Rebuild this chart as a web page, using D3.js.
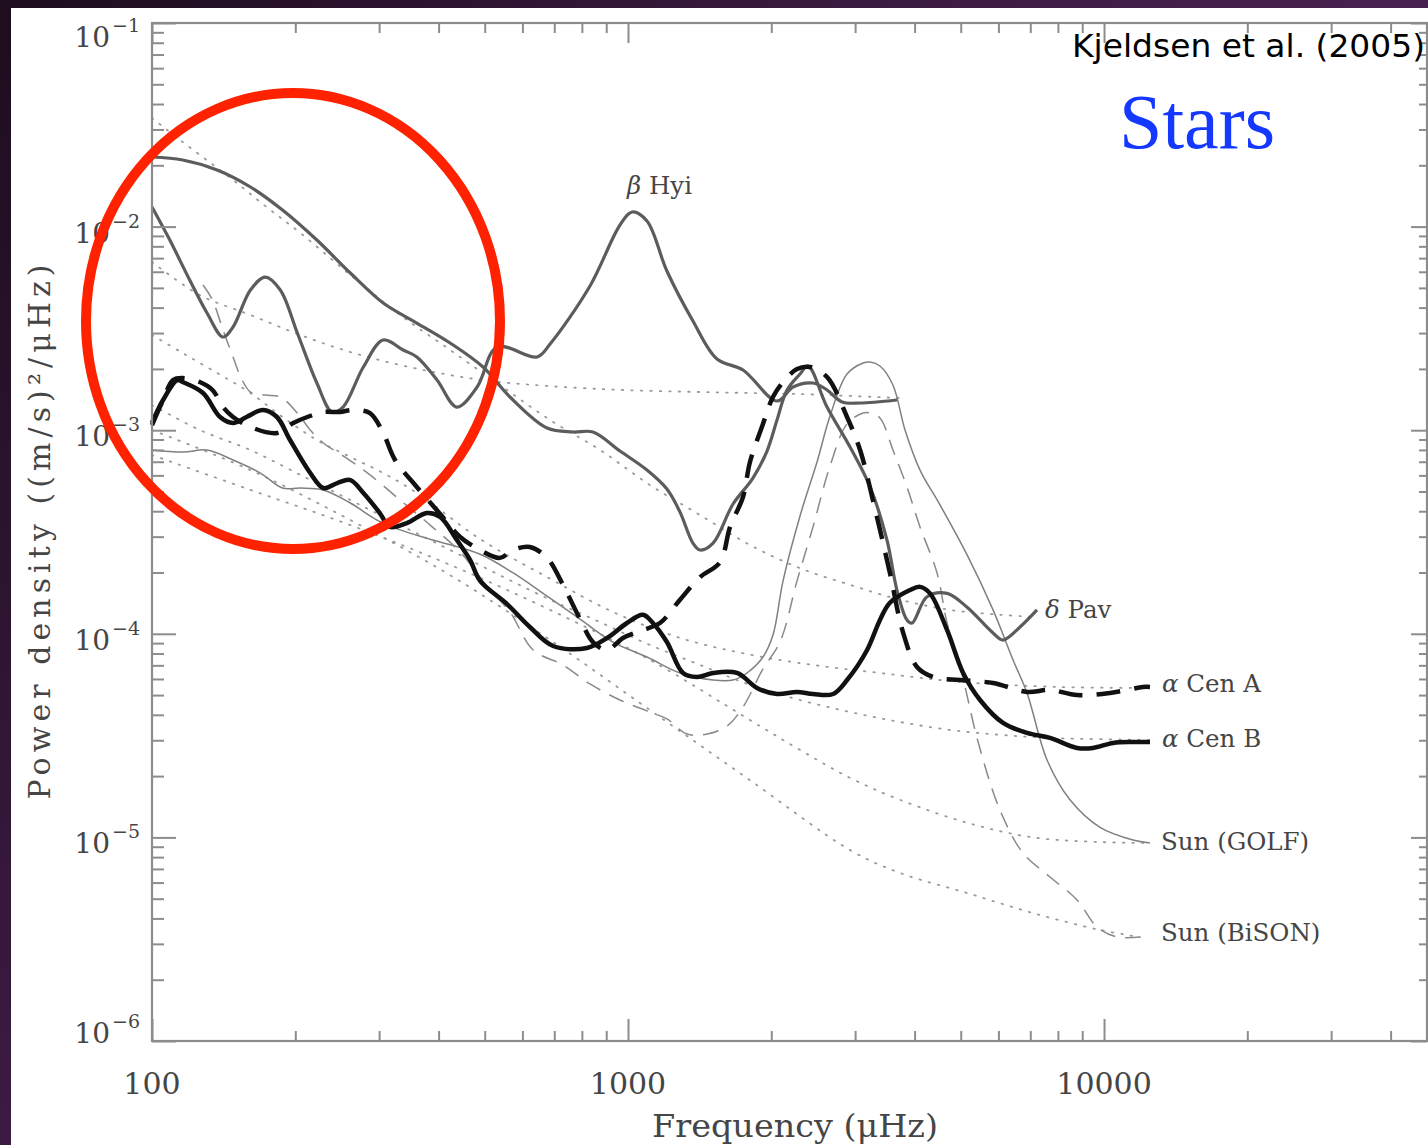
<!DOCTYPE html>
<html>
<head>
<meta charset="utf-8">
<script src="https://cdn.jsdelivr.net/npm/d3@7"></script>
<style>
  html, body { margin: 0; padding: 0; background: #ffffff; }
  svg { display: block; }
</style>
</head>
<body>
<svg id="chart" width="1428" height="1145"></svg>
<script>
// ---- Axis ticks ----------------------------------------------------------
const freqMajorTicks = [100, 1000, 10000];
const freqMinorTicks = [200, 300, 400, 500, 600, 700, 800, 900,
                        2000, 3000, 4000, 5000, 6000, 7000, 8000, 9000,
                        20000, 30000, 40000];
const freqTickLabels = ["100", "1000", "10000"];
const powerExponents = [-1, -2, -3, -4, -5, -6];
const powerMinorMantissas = [2, 3, 4, 5, 6, 7, 8, 9];

// ---- Smoothed power density spectra (frequency in µHz, power in (m/s)^2/µHz)
const dPavFreq  = [100, 116, 137, 161, 188, 222, 261, 306, 360, 423, 496, 565, 676, 766, 844, 962, 1096, 1207, 1286, 1369, 1417, 1509, 1662, 1830, 1959, 2056, 2158, 2298, 2389, 2619, 2927, 3226, 3499, 3673, 3855, 3951, 4248, 4680, 5157, 5846, 6135, 6661, 7231];
const dPavPower = [0.02197, 0.02124, 0.01897, 0.01565, 0.01206, 0.00859, 0.005917, 0.004214, 0.003361, 0.002681, 0.002043, 0.001456, 0.001025, 0.000980, 0.000980, 0.000790, 0.000637, 0.000514, 0.000396, 0.000279, 0.000258, 0.000279, 0.000434, 0.000582, 0.000790, 0.001122, 0.001576, 0.001888, 0.002067, 0.001299, 0.000827, 0.000526, 0.000289, 0.000164, 0.000117, 0.000113, 0.000152, 0.000158, 0.000135, 0.0001009, 0.0000932, 0.000108, 0.000131];

const bHyiFreq  = [100, 109, 120, 130.5, 141, 148, 161, 173, 186, 202, 222, 239, 252, 278, 306, 337, 360, 397, 437, 482, 531, 644, 686, 832, 962, 1020, 1096, 1207, 1369, 1538, 1744, 2056, 2222, 2447, 2619, 2816, 3073, 3673];
const bHyiPower = [0.01248, 0.00859, 0.005466, 0.003764, 0.002869, 0.003212, 0.004882, 0.005653, 0.004882, 0.003001, 0.001705, 0.001228, 0.001299, 0.002043, 0.002773, 0.002477, 0.002289, 0.001764, 0.001299, 0.001630, 0.002563, 0.002289, 0.002651, 0.005107, 0.01018, 0.01179, 0.01065, 0.006050, 0.003438, 0.002237, 0.001975, 0.001391, 0.001630, 0.001705, 0.001576, 0.001376, 0.001360, 0.001407];

const aCenAFreq  = [100, 105.5, 110.7, 116, 126, 134, 141, 148, 161, 183, 198, 212, 229, 248, 264, 287, 306, 324, 360, 403, 444, 489, 538, 574, 622, 676, 730, 793, 844, 904, 976, 1060, 1167, 1286, 1417, 1561, 1638, 1744, 1804, 1921, 2016, 2117, 2265, 2412, 2619, 2885, 3073, 3269, 3550, 3781, 4047, 4374, 4985, 5846, 6891, 7702, 8776, 10295, 12077, 12490];
const aCenAPower = [0.001060, 0.001407, 0.001764, 0.001804, 0.001724, 0.001576, 0.001299, 0.001161, 0.001037, 0.000969, 0.001085, 0.001161, 0.001228, 0.001228, 0.001256, 0.001214, 0.000969, 0.000714, 0.000526, 0.000388, 0.000299, 0.000258, 0.000236, 0.000258, 0.000267, 0.000236, 0.000174, 0.000118, 0.0000911, 0.0000833, 0.0000954, 0.0001032, 0.000113, 0.000147, 0.000190, 0.000225, 0.000335, 0.000470, 0.000698, 0.001073, 0.001456, 0.001724, 0.001997, 0.002043, 0.001825, 0.001161, 0.000799, 0.000454, 0.000199, 0.0001020, 0.0000687, 0.0000614, 0.0000593, 0.0000573, 0.0000518, 0.0000530, 0.0000500, 0.0000512, 0.0000548, 0.0000548];

const aCenBFreq  = [100, 105.5, 113, 116, 128, 139, 148, 158, 171, 183, 195, 215, 229, 245, 261, 278, 301, 316, 343, 378, 403, 437, 466, 489, 557, 622, 696, 820, 904, 995, 1075, 1128, 1207, 1305, 1396, 1509, 1694, 1866, 2056, 2265, 2447, 2696, 2885, 3179, 3383, 3550, 3912, 4106, 4310, 4680, 5058, 5490, 6135, 6891, 7702, 8776, 9483, 10445, 11505, 12490];
const aCenBPower = [0.001085, 0.001407, 0.001764, 0.001724, 0.001523, 0.001161, 0.001085, 0.001161, 0.001256, 0.001161, 0.000895, 0.000616, 0.000520, 0.000550, 0.000569, 0.000492, 0.000392, 0.000335, 0.000350, 0.000392, 0.000375, 0.000289, 0.000230, 0.000182, 0.000140, 0.000108, 0.0000871, 0.0000852, 0.0000954, 0.000113, 0.000124, 0.000113, 0.0000911, 0.0000642, 0.0000614, 0.0000642, 0.0000642, 0.0000542, 0.0000506, 0.0000518, 0.0000506, 0.0000506, 0.0000593, 0.0000833, 0.000117, 0.000142, 0.000164, 0.000170, 0.000158, 0.0001044, 0.0000642, 0.0000473, 0.0000365, 0.0000326, 0.0000308, 0.0000275, 0.0000275, 0.0000291, 0.0000294, 0.0000294];

const golfFreq  = [100, 116, 130.5, 148, 169, 188, 205, 229, 261, 297, 332, 389, 489, 574, 676, 793, 930, 1096, 1286, 1509, 1662, 1778, 1921, 2016, 2117, 2298, 2495, 2657, 2885, 3118, 3226, 3383, 3602, 3819, 4106, 4525, 5157, 5846, 6440, 6891, 7591, 8483, 9809, 11505, 12490];
const golfPower = [0.000799, 0.000781, 0.000799, 0.000714, 0.000616, 0.000520, 0.000520, 0.000509, 0.000439, 0.000362, 0.000324, 0.000289, 0.000246, 0.000199, 0.000153, 0.000118, 0.0000911, 0.0000769, 0.0000642, 0.0000593, 0.0000593, 0.0000642, 0.0000769, 0.0000986, 0.000182, 0.000379, 0.000698, 0.001174, 0.001888, 0.002138, 0.002163, 0.002067, 0.001667, 0.001002, 0.000637, 0.000429, 0.000244, 0.000131, 0.0000744, 0.0000512, 0.0000240, 0.0000153, 0.0000112, 0.00000971, 0.00000939];

const bisonFreq  = [128, 134, 141, 148, 153, 161, 173, 186, 202, 215, 229, 254, 287, 332, 384, 444, 513, 565, 632, 730, 832, 962, 1096, 1207, 1330, 1466, 1614, 1744, 1921, 2086, 2265, 2447, 2657, 2885, 3118, 3226, 3383, 3602, 3855, 4106, 4459, 4680, 5034, 5439, 6047, 6758, 7702, 8776, 9667, 10649, 11903];
const bisonPower = [0.005163, 0.004359, 0.003105, 0.002289, 0.001866, 0.001540, 0.001489, 0.001456, 0.001214, 0.001002, 0.000865, 0.000739, 0.000603, 0.000454, 0.000342, 0.000252, 0.000164, 0.000128, 0.0000833, 0.0000703, 0.0000567, 0.0000473, 0.0000418, 0.0000382, 0.0000322, 0.0000322, 0.0000352, 0.0000437, 0.0000672, 0.0000911, 0.000182, 0.000335, 0.000667, 0.001073, 0.001214, 0.001214, 0.001148, 0.000799, 0.000526, 0.000335, 0.000199, 0.000113, 0.0000628, 0.0000294, 0.0000136, 0.00000838, 0.00000639, 0.00000493, 0.00000363, 0.00000324, 0.00000324];

// ---- Fitted background (granulation + white noise) for each star
const dPavBgFreq  = [100, 114.5, 148, 174, 205, 261, 332, 423, 538, 686, 874, 1112, 1417, 1804, 2298, 2927, 3727, 4749, 6047, 7161];
const dPavBgPower = [0.03415, 0.02663, 0.01694, 0.01248, 0.00930, 0.005786, 0.003680, 0.002477, 0.001667, 0.001122, 0.000799, 0.000538, 0.000383, 0.000273, 0.000210, 0.000174, 0.000147, 0.000131, 0.000124, 0.000121];

const bHyiBgFreq  = [100, 126, 161, 205, 261, 332, 423, 538, 874, 1417, 2298, 3727];
const bHyiBgPower = [0.006699, 0.004613, 0.003680, 0.002935, 0.002421, 0.002090, 0.001866, 0.001724, 0.001593, 0.001540, 0.001505, 0.001439];

const aCenABgFreq  = [100, 116, 137, 161, 188, 222, 261, 306, 360, 489, 676, 930, 1286, 1778, 2447, 3383, 4985, 8082, 12077];
const aCenABgPower = [0.002935, 0.002394, 0.001910, 0.001523, 0.001161, 0.000895, 0.000739, 0.000616, 0.000492, 0.000292, 0.000190, 0.000128, 0.0000954, 0.0000796, 0.0000703, 0.0000642, 0.0000580, 0.0000548, 0.0000542];

const aCenBBgFreq  = [100, 126, 161, 205, 261, 332, 423, 538, 686, 874, 1112, 1417, 1804, 2298, 2927, 3727, 4749, 6047, 7702, 12490];
const aCenBBgPower = [0.001330, 0.001002, 0.000799, 0.000603, 0.000454, 0.000342, 0.000258, 0.000194, 0.000147, 0.000114, 0.0000881, 0.0000703, 0.0000561, 0.0000473, 0.0000413, 0.0000369, 0.0000337, 0.0000319, 0.0000308, 0.0000301];

const golfBgFreq  = [100, 161, 261, 423, 686, 1112, 1804, 2298, 2927, 3727, 5157, 7093, 9809, 12490];
const golfBgPower = [0.000755, 0.000509, 0.000342, 0.000218, 0.000131, 0.0000744, 0.0000377, 0.0000269, 0.0000196, 0.0000153, 0.0000118, 0.0000100, 0.00000949, 0.00000939];

const bisonBgFreq  = [100, 161, 261, 423, 686, 1112, 1804, 2927, 3727, 5157, 7093, 9809, 11903];
const bisonBgPower = [0.001002, 0.000637, 0.000362, 0.000194, 0.0000932, 0.0000422, 0.0000191, 0.00000867, 0.00000669, 0.00000533, 0.00000425, 0.00000351, 0.00000324];

// ---- Layout --------------------------------------------------------------
const W = 1428, H = 1145;
const svg = d3.select("#chart");

const x = d3.scaleLog().domain([100, 47700]).range([152, 1427]);
const y = d3.scaleLog().domain([1e-6, 1e-1]).range([1041, 23]);

// slide frame: dark violet border, white page
const defs = svg.append("defs");
const grad = defs.append("linearGradient").attr("id", "frameGrad")
  .attr("gradientUnits", "userSpaceOnUse")
  .attr("x1", 0).attr("y1", 0).attr("x2", W).attr("y2", H);
grad.append("stop").attr("offset", 0).attr("stop-color", "#1d0d1e");
grad.append("stop").attr("offset", 0.39).attr("stop-color", "#3c1b42");
grad.append("stop").attr("offset", 0.61).attr("stop-color", "#48224f");
grad.append("stop").attr("offset", 1).attr("stop-color", "#55295c");

svg.append("rect").attr("width", W).attr("height", H).attr("fill", "url(#frameGrad)");
svg.append("rect").attr("x", 11).attr("y", 8).attr("width", W - 11).attr("height", H - 8).attr("fill", "#ffffff");

const plot = svg.append("g");

// ---- Line helper ---------------------------------------------------------
const line = d3.line()
  .x(d => x(d[0]))
  .y(d => y(d[1]))
  .curve(d3.curveCatmullRom.alpha(0.5));

function drawSeries(freq, power, style) {
  plot.append("path")
    .datum(d3.zip(freq, power))
    .attr("fill", "none")
    .attr("stroke", style.color)
    .attr("stroke-width", style.width)
    .attr("stroke-dasharray", style.dash || null)
    .attr("stroke-linecap", style.cap || "butt")
    .attr("stroke-linejoin", "round")
    .attr("d", line);
}

// backgrounds (dotted)
const dotted = { color: "#9a9a9a", width: 1.8, dash: "1.5,8", cap: "round" };
drawSeries(dPavBgFreq, dPavBgPower, dotted);
drawSeries(bHyiBgFreq, bHyiBgPower, dotted);
drawSeries(aCenABgFreq, aCenABgPower, dotted);
drawSeries(aCenBBgFreq, aCenBBgPower, dotted);
drawSeries(golfBgFreq, golfBgPower, dotted);
drawSeries(bisonBgFreq, bisonBgPower, dotted);

// spectra
drawSeries(golfFreq, golfPower, { color: "#808080", width: 1.5 });
drawSeries(bisonFreq, bisonPower, { color: "#8a8a8a", width: 1.5, dash: "16,10" });
drawSeries(dPavFreq, dPavPower, { color: "#5c5c5c", width: 3.2 });
drawSeries(bHyiFreq, bHyiPower, { color: "#5c5c5c", width: 3.2 });
drawSeries(aCenBFreq, aCenBPower, { color: "#111111", width: 4.5 });
drawSeries(aCenAFreq, aCenAPower, { color: "#111111", width: 4.5, dash: "24,14" });

// ---- Axes ----------------------------------------------------------------
const axisColor = "#8c8c8c";
const powerMajorTicks = powerExponents.map(e => Math.pow(10, e));
const powerMinorTicks = [];
powerExponents.slice(1).forEach(e => powerMinorMantissas.forEach(m => powerMinorTicks.push(m * Math.pow(10, e))));

function styleAxis(g) {
  g.select(".domain").remove();
  g.selectAll(".tick line").attr("stroke", axisColor).attr("stroke-width", 2);
  g.selectAll(".tick text").remove();
}

const axes = svg.append("g");
// bottom
axes.append("g").attr("transform", "translate(0,1041)")
  .call(d3.axisBottom(x).tickValues(freqMajorTicks).tickSize(-22)).call(styleAxis);
axes.append("g").attr("transform", "translate(0,1041)")
  .call(d3.axisBottom(x).tickValues(freqMinorTicks).tickSize(-10)).call(styleAxis);
// top
axes.append("g").attr("transform", "translate(0,23)")
  .call(d3.axisTop(x).tickValues(freqMajorTicks).tickSize(-20)).call(styleAxis);
axes.append("g").attr("transform", "translate(0,23)")
  .call(d3.axisTop(x).tickValues(freqMinorTicks).tickSize(-10)).call(styleAxis);
// left
axes.append("g").attr("transform", "translate(152,0)")
  .call(d3.axisLeft(y).tickValues(powerMajorTicks).tickSize(-24)).call(styleAxis);
axes.append("g").attr("transform", "translate(152,0)")
  .call(d3.axisLeft(y).tickValues(powerMinorTicks).tickSize(-12)).call(styleAxis);
// right
axes.append("g").attr("transform", "translate(1427,0)")
  .call(d3.axisRight(y).tickValues(powerMajorTicks).tickSize(-16)).call(styleAxis);
axes.append("g").attr("transform", "translate(1427,0)")
  .call(d3.axisRight(y).tickValues(powerMinorTicks).tickSize(-8)).call(styleAxis);

// frame
axes.append("rect")
  .attr("x", x(100)).attr("y", y(1e-1))
  .attr("width", x.range()[1] - x(100)).attr("height", y(1e-6) - y(1e-1))
  .attr("fill", "none").attr("stroke", axisColor).attr("stroke-width", 2.2);

// tick labels
const serif = "'DejaVu Serif', 'Liberation Serif', serif";
const labelColor = "#454545";

axes.selectAll("text.xlab").data(freqMajorTicks).join("text")
  .attr("class", "xlab")
  .attr("x", d => x(d)).attr("y", 1094)
  .attr("text-anchor", "middle")
  .attr("font-family", serif).attr("font-size", 30)
  .attr("fill", labelColor)
  .text((d, i) => freqTickLabels[i]);

const yLabelShift = e => (e === -1 ? 24 : e === -6 ? 2 : 16);
const yLab = axes.selectAll("g.ylab").data(powerExponents).join("g")
  .attr("class", "ylab")
  .attr("transform", e => `translate(0,${y(Math.pow(10, e)) + yLabelShift(e)})`);
yLab.append("text")
  .attr("x", 110).attr("y", 0)
  .attr("text-anchor", "end")
  .attr("font-family", serif).attr("font-size", 28)
  .attr("fill", labelColor)
  .text("10");
yLab.append("text")
  .attr("x", 112).attr("y", -15)
  .attr("font-family", serif).attr("font-size", 19)
  .attr("fill", labelColor)
  .text(e => "\u2212" + Math.abs(e));

// axis titles
axes.append("text")
  .attr("x", 795).attr("y", 1137)
  .attr("text-anchor", "middle")
  .attr("font-family", serif).attr("font-size", 32)
  .attr("fill", labelColor)
  .attr("textLength", 286).attr("lengthAdjust", "spacingAndGlyphs")
  .text("Frequency (\u03bcHz)");

axes.append("text")
  .attr("transform", "translate(50,532) rotate(-90)")
  .attr("text-anchor", "middle")
  .attr("font-family", serif).attr("font-size", 30)
  .attr("fill", labelColor)
  .attr("textLength", 535).attr("lengthAdjust", "spacing")
  .text("Power density ((m/s)\u00b2/\u03bcHz)");

// ---- Series labels -------------------------------------------------------
const seriesLabels = [
  { greek: "\u03b2", rest: " Hyi", x: 627, y: 194 },
  { greek: "\u03b4", rest: " Pav", x: 1045, y: 618 },
  { greek: "\u03b1", rest: " Cen A", x: 1162, y: 692 },
  { greek: "\u03b1", rest: " Cen B", x: 1162, y: 747 },
  { greek: "", rest: "Sun (GOLF)", x: 1161, y: 850 },
  { greek: "", rest: "Sun (BiSON)", x: 1161, y: 941 }
];
const sl = axes.selectAll("text.slab").data(seriesLabels).join("text")
  .attr("class", "slab")
  .attr("x", d => d.x).attr("y", d => d.y)
  .attr("font-family", serif).attr("font-size", 24.5)
  .attr("fill", labelColor);
sl.append("tspan").attr("font-style", "italic").text(d => d.greek);
sl.append("tspan").text(d => d.rest);

// ---- Annotations ---------------------------------------------------------
svg.append("ellipse")
  .attr("cx", 293).attr("cy", 321).attr("rx", 207).attr("ry", 228)
  .attr("fill", "none").attr("stroke", "#ff2200").attr("stroke-width", 10);

svg.append("text")
  .attr("x", 1072).attr("y", 57)
  .attr("font-family", "'DejaVu Sans', Verdana, sans-serif").attr("font-size", 32)
  .attr("fill", "#000000")
  .attr("textLength", 353).attr("lengthAdjust", "spacingAndGlyphs")
  .text("Kjeldsen et al. (2005)");

svg.append("text")
  .attr("x", 1119).attr("y", 148)
  .attr("font-family", "'Liberation Serif', 'Times New Roman', serif").attr("font-size", 78)
  .attr("fill", "#1438ff")
  .text("Stars");
</script>
</body>
</html>
